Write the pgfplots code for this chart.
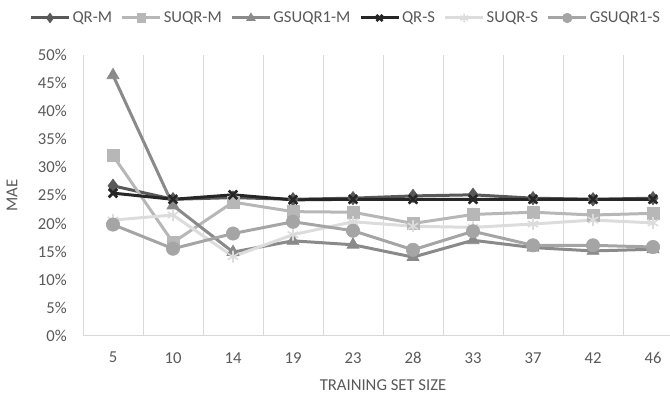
\documentclass[border=0pt]{standalone}
\usepackage{pgfplots}
\pgfplotsset{compat=1.18}
\usepackage{fontspec}
\setmainfont{Carlito}
\definecolor{txt}{HTML}{595959}
\definecolor{grd}{HTML}{D9D9D9}
\definecolor{cQRM}{HTML}{595959}
\definecolor{cSUQRM}{HTML}{B7B7B7}
\definecolor{cGSM}{HTML}{8A8A8A}
\definecolor{cQRS}{HTML}{262626}
\definecolor{cSUQRS}{HTML}{DCDCDC}
\definecolor{cGSS}{HTML}{A5A5A5}
\begin{document}
\begin{tikzpicture}
\begin{axis}[
  name=ax,
  scale only axis,
  width=450pt, height=210.5pt,
  xmin=-0.5, xmax=9.5, ymin=0, ymax=50,
  xtick={0,...,9},
  xticklabels={5,10,14,19,23,28,33,37,42,46},
  ytick={0,5,...,50},
  yticklabel={\pgfmathprintnumber{\tick}\%},
  /pgf/number format/assume math mode=true,
  major tick length=0pt,
  axis x line*=bottom, axis y line*=left,
  x axis line style={draw=grd, line width=0.8pt},
  y axis line style={draw=none},
  extra x ticks={-0.5,0.5,...,9.5},
  extra x tick labels={},
  extra x tick style={xmajorgrids=true, major grid style={draw=grd, line width=0.6pt}, major tick length=0pt},
  tick label style={font=\fontsize{12.5}{15}\selectfont, text=txt},
  yticklabel style={anchor=east, inner sep=0pt, xshift=-12pt},
  xticklabel style={anchor=center, inner sep=0pt, yshift=-16.5pt},
  xlabel={TRAINING SET SIZE},
  ylabel={MAE},
  label style={font=\fontsize{12.5}{15}\selectfont, text=txt},
  xlabel style={at={(axis description cs:0.5,-0.1756)}, anchor=center, inner sep=0pt},
  ylabel style={at={(axis description cs:-0.1183,0.5)}, anchor=center, inner sep=0pt, rotate=0},
  clip=false,
  every axis plot/.append style={line width=2.25pt},
  legend columns=6,
  legend style={draw=none, fill=none, at={(0.438,1.132)}, anchor=center,
    font=\fontsize{12.5}{15}\selectfont, text=txt, inner sep=0pt,
    /tikz/every even column/.append style={column sep=5pt},
    nodes={inner sep=1.5pt}},
  legend image code/.code={\draw[mark repeat=2,mark phase=2,/tikz/every mark/.append style={scale=0.72}] plot coordinates {(0pt,0pt) (14.25pt,0pt) (28.5pt,0pt)};},
]
\addplot[color=cQRM, mark=diamond*, mark size=5pt, mark options={line width=0.5pt, fill=cQRM}]
  coordinates {(0,26.7) (1,24.3) (2,24.6) (3,24.3) (4,24.5) (5,24.9) (6,25.1) (7,24.5) (8,24.3) (9,24.5)};
\addlegendentry{QR-M}
\addplot[color=cSUQRM, mark=square*, mark size=4.6pt, mark options={line width=0.5pt, fill=cSUQRM}]
  coordinates {(0,32.1) (1,16.6) (2,23.8) (3,22.1) (4,22.0) (5,20.0) (6,21.6) (7,22.0) (8,21.5) (9,21.8)};
\addlegendentry{SUQR-M}
\addplot[color=cGSM, mark=triangle*, mark size=5.2pt, mark options={line width=0.5pt, fill=cGSM}]
  coordinates {(0,46.4) (1,23.2) (2,14.9) (3,16.9) (4,16.2) (5,14.0) (6,17.0) (7,15.7) (8,15.1) (9,15.4)};
\addlegendentry{GSUQR1-M}
\addplot[color=cQRS, mark=x, mark size=4.5pt, mark options={line width=2pt}]
  coordinates {(0,25.4) (1,24.3) (2,25.1) (3,24.2) (4,24.3) (5,24.3) (6,24.3) (7,24.3) (8,24.3) (9,24.3)};
\addlegendentry{QR-S}
\addplot[color=cSUQRS, mark=asterisk, mark size=4.5pt, mark options={line width=1.2pt}]
  coordinates {(0,20.6) (1,21.5) (2,14.1) (3,18.0) (4,20.3) (5,19.5) (6,19.3) (7,19.9) (8,20.6) (9,20.1)};
\addlegendentry{SUQR-S}
\addplot[color=cGSS, mark=*, mark size=5pt, mark options={line width=0.5pt, fill=cGSS}]
  coordinates {(0,19.8) (1,15.5) (2,18.2) (3,20.3) (4,18.7) (5,15.3) (6,18.6) (7,16.1) (8,16.1) (9,15.8)};
\addlegendentry{GSUQR1-S}
\end{axis}
\pgfresetboundingbox
\path[use as bounding box] ([xshift=-62.25pt,yshift=-45.225pt]ax.south west) rectangle ([xshift=440.25pt,yshift=251.775pt]ax.south west);
\end{tikzpicture}
\end{document}
